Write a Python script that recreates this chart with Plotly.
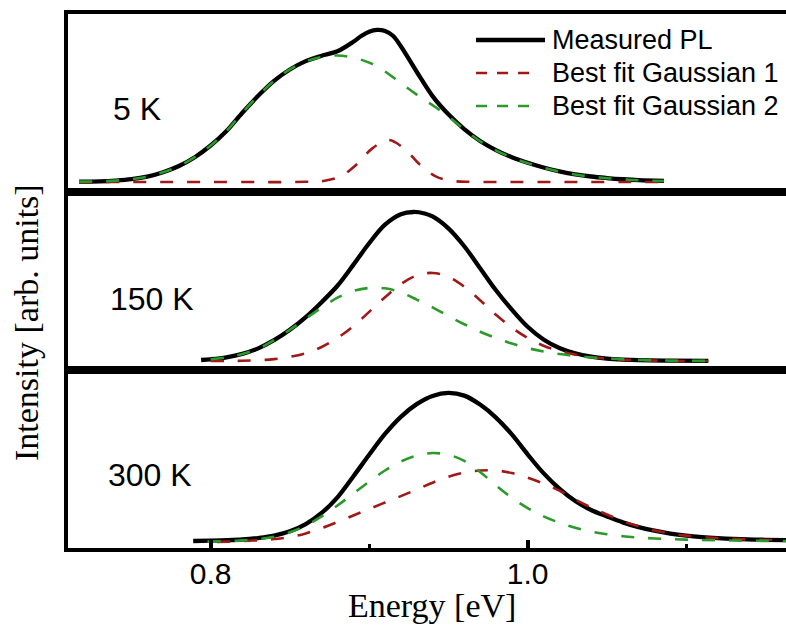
import plotly.graph_objects as go
from plotly.subplots import make_subplots

# ---------------- data (normalised intensity) ----------------
# 5 K panel
E_5K_meas = [0.717, 0.73, 0.74, 0.75, 0.76, 0.77, 0.78, 0.79, 0.80, 0.81, 0.82, 0.83, 0.84, 0.85, 0.86, 0.87,
             0.88, 0.89, 0.895, 0.90, 0.905, 0.91, 0.915, 0.92, 0.93, 0.94, 0.95, 0.96, 0.97, 0.98, 0.99, 1.00,
             1.01, 1.02, 1.03, 1.04, 1.05, 1.06, 1.07, 1.086]
I_5K_meas = [0.002, 0.004, 0.009, 0.018, 0.035, 0.064, 0.105, 0.163, 0.240, 0.335, 0.455, 0.567, 0.665, 0.740,
             0.795, 0.830, 0.860, 0.922, 0.960, 0.988, 1.000, 0.993, 0.962, 0.893, 0.725, 0.565, 0.445, 0.348,
             0.270, 0.210, 0.163, 0.126, 0.095, 0.070, 0.050, 0.036, 0.026, 0.018, 0.012, 0.007]
E_5K_g1 = [0.717, 0.800, 0.860, 0.872, 0.882, 0.892, 0.902, 0.912, 0.922, 0.932, 0.942, 0.952, 0.965, 1.000, 1.086]
I_5K_g1 = [0.0, 0.0, 0.001, 0.008, 0.037, 0.114, 0.221, 0.276, 0.221, 0.114, 0.037, 0.008, 0.001, 0.0, 0.0]
E_5K_g2 = [0.717, 0.73, 0.74, 0.75, 0.76, 0.77, 0.78, 0.79, 0.80, 0.81, 0.82, 0.83, 0.84, 0.85, 0.86, 0.87,
           0.88, 0.89, 0.90, 0.91, 0.92, 0.93, 0.94, 0.95, 0.96, 0.97, 0.98, 0.99, 1.00, 1.01, 1.02, 1.03,
           1.04, 1.05, 1.06, 1.07, 1.086]
I_5K_g2 = [0.002, 0.004, 0.009, 0.018, 0.035, 0.064, 0.105, 0.163, 0.240, 0.335, 0.455, 0.567, 0.665, 0.740,
           0.793, 0.822, 0.832, 0.818, 0.785, 0.727, 0.650, 0.575, 0.505, 0.432, 0.345, 0.268, 0.208, 0.161,
           0.124, 0.093, 0.068, 0.049, 0.035, 0.025, 0.017, 0.011, 0.006]

# 150 K panel
E_150K_meas = [0.794, 0.80, 0.81, 0.82, 0.83, 0.84, 0.85, 0.86, 0.87, 0.88, 0.89, 0.90, 0.91, 0.92, 0.928,
               0.935, 0.94, 0.95, 0.96, 0.97, 0.98, 0.99, 1.00, 1.01, 1.02, 1.03, 1.04, 1.05, 1.06, 1.07,
               1.09, 1.114]
I_150K_meas = [0.007, 0.012, 0.025, 0.048, 0.085, 0.140, 0.210, 0.295, 0.395, 0.505, 0.645, 0.790, 0.915,
               0.985, 1.000, 0.990, 0.970, 0.890, 0.770, 0.623, 0.475, 0.345, 0.230, 0.145, 0.088, 0.052,
               0.030, 0.017, 0.010, 0.006, 0.003, 0.001]
E_150K_g1 = [0.80, 0.81, 0.82, 0.83, 0.84, 0.85, 0.86, 0.87, 0.88, 0.89, 0.90, 0.91, 0.92, 0.93, 0.94, 0.95,
             0.96, 0.97, 0.98, 0.99, 1.00, 1.01, 1.02, 1.03, 1.04, 1.05, 1.06, 1.08, 1.114]
I_150K_g1 = [0.0, 0.001, 0.002, 0.006, 0.013, 0.028, 0.053, 0.094, 0.155, 0.234, 0.330, 0.428, 0.516, 0.574,
             0.591, 0.565, 0.499, 0.408, 0.310, 0.225, 0.155, 0.103, 0.068, 0.043, 0.027, 0.016, 0.009,
             0.003, 0.0]
E_150K_g2 = [0.80, 0.81, 0.82, 0.83, 0.84, 0.85, 0.86, 0.87, 0.88, 0.89, 0.90, 0.91, 0.92, 0.93, 0.94, 0.95,
             0.96, 0.97, 0.98, 0.99, 1.00, 1.01, 1.02, 1.03, 1.04, 1.05, 1.06, 1.07, 1.09, 1.114]
I_150K_g2 = [0.012, 0.025, 0.048, 0.083, 0.140, 0.210, 0.285, 0.358, 0.425, 0.470, 0.490, 0.488, 0.460, 0.412,
             0.360, 0.302, 0.247, 0.197, 0.155, 0.117, 0.087, 0.064, 0.047, 0.035, 0.025, 0.018, 0.012,
             0.008, 0.003, 0.001]

# 300 K panel
E_300K_meas = [0.789, 0.80, 0.81, 0.82, 0.83, 0.84, 0.85, 0.86, 0.87, 0.88, 0.89, 0.90, 0.91, 0.92, 0.93,
               0.94, 0.95, 0.96, 0.97, 0.98, 0.99, 1.00, 1.01, 1.02, 1.03, 1.04, 1.05, 1.06, 1.07, 1.08,
               1.09, 1.10, 1.11, 1.12, 1.13, 1.15, 1.17]
I_300K_meas = [0.007, 0.009, 0.012, 0.017, 0.027, 0.043, 0.072, 0.120, 0.195, 0.300, 0.440, 0.585, 0.725,
               0.840, 0.925, 0.980, 1.000, 0.982, 0.922, 0.835, 0.722, 0.588, 0.462, 0.358, 0.275, 0.215,
               0.172, 0.132, 0.100, 0.076, 0.057, 0.043, 0.033, 0.026, 0.021, 0.015, 0.012]
E_300K_g1 = [0.804, 0.82, 0.83, 0.84, 0.85, 0.86, 0.87, 0.88, 0.89, 0.90, 0.91, 0.92, 0.93, 0.94, 0.95, 0.96,
             0.97, 0.98, 0.99, 1.00, 1.01, 1.02, 1.03, 1.04, 1.05, 1.06, 1.07, 1.08, 1.09, 1.10, 1.12, 1.14,
             1.17]
I_300K_g1 = [0.0, 0.006, 0.012, 0.020, 0.033, 0.058, 0.093, 0.135, 0.178, 0.222, 0.265, 0.308, 0.352, 0.398,
             0.438, 0.466, 0.480, 0.480, 0.463, 0.432, 0.392, 0.345, 0.285, 0.232, 0.185, 0.140, 0.105,
             0.078, 0.058, 0.043, 0.026, 0.017, 0.010]
E_300K_g2 = [0.798, 0.81, 0.82, 0.83, 0.84, 0.85, 0.86, 0.87, 0.88, 0.89, 0.90, 0.91, 0.92, 0.93, 0.94, 0.95,
             0.96, 0.97, 0.98, 0.99, 1.00, 1.01, 1.02, 1.03, 1.04, 1.05, 1.06, 1.07, 1.08, 1.10, 1.13, 1.17]
I_300K_g2 = [0.003, 0.006, 0.011, 0.019, 0.035, 0.065, 0.110, 0.172, 0.245, 0.325, 0.405, 0.480, 0.540,
             0.580, 0.597, 0.585, 0.545, 0.470, 0.380, 0.297, 0.228, 0.172, 0.130, 0.095, 0.070, 0.052,
             0.039, 0.030, 0.024, 0.016, 0.010, 0.006]

panel_labels = ["5 K", "150 K", "300 K"]
series_names = ["Measured PL", "Best fit Gaussian 1", "Best fit Gaussian 2"]
x_ticks = [0.8, 1.0]
x_tick_labels = ["0.8", "1.0"]
x_minor_ticks = [0.9, 1.1]
x_title = "Energy [eV]"
y_title = "Intensity [arb. units]"

panels = [
    (E_5K_meas, I_5K_meas, E_5K_g1, I_5K_g1, E_5K_g2, I_5K_g2),
    (E_150K_meas, I_150K_meas, E_150K_g1, I_150K_g1, E_150K_g2, I_150K_g2),
    (E_300K_meas, I_300K_meas, E_300K_g1, I_300K_g1, E_300K_g2, I_300K_g2),
]

# ---------------- styling ----------------
W, H = 786, 631
ML, MT, MB = 68, 14, 83
RED = "#a01818"
GREEN = "#2a9a2a"
SANS = "Liberation Sans, Arial, sans-serif"
SERIF = "Liberation Serif, Times New Roman, serif"
y_ranges = [[-0.066, 1.105], [-0.060, 1.134], [-0.040, 1.154]]
x_range = [0.710, 1.163]
DATA_DASH = "13px,14px"
SM = 1.0

fig = make_subplots(rows=3, cols=1, shared_xaxes=True, vertical_spacing=0)

for i, (em, im, e1, i1, e2, i2) in enumerate(panels):
    r = i + 1
    fig.add_trace(go.Scatter(x=em, y=im, mode="lines", name=series_names[0],
                             line=dict(color="black", width=4.3, shape="spline", smoothing=SM),
                             showlegend=False), row=r, col=1)
    fig.add_trace(go.Scatter(x=e1, y=i1, mode="lines", name=series_names[1],
                             line=dict(color=RED, width=2.6, dash=DATA_DASH, shape="spline", smoothing=SM),
                             showlegend=False), row=r, col=1)
    fig.add_trace(go.Scatter(x=e2, y=i2, mode="lines", name=series_names[2],
                             line=dict(color=GREEN, width=2.6, dash=DATA_DASH, shape="spline", smoothing=SM),
                             showlegend=False), row=r, col=1)
    fig.update_yaxes(range=y_ranges[i], showline=True, linecolor="black", linewidth=4, mirror=False,
                     showticklabels=False, ticks="", showgrid=False, zeroline=False, row=r, col=1)
    fig.update_xaxes(range=x_range, showline=True, linecolor="black", linewidth=4, mirror=True,
                     showgrid=False, zeroline=False, row=r, col=1)

fig.update_xaxes(ticks="", showticklabels=False, row=1, col=1)
fig.update_xaxes(ticks="", showticklabels=False, row=2, col=1)
fig.update_xaxes(ticks="inside", ticklen=8, tickwidth=3.5, tickcolor="black",
                 tickvals=x_ticks, ticktext=x_tick_labels, showticklabels=True, ticklabelstandoff=-4,
                 tickfont=dict(family=SANS, size=30, color="black"),
                 minor=dict(tickvals=x_minor_ticks, ticks="inside", ticklen=4, tickwidth=3, tickcolor="black"),
                 row=3, col=1)

plot_w = W - ML
plot_h = H - MT - MB


def px(xp):
    return (xp - ML) / plot_w


def py(yp):
    return (H - MB - yp) / plot_h


annotations = []
label_pos = [(111, 109), (108, 299), (106, 475)]
for lab, (lx, ly) in zip(panel_labels, label_pos):
    annotations.append(dict(text=lab, x=px(lx), y=py(ly), xref="paper", yref="paper",
                            xanchor="left", yanchor="middle", showarrow=False,
                            font=dict(family=SANS, size=32, color="black")))

annotations.append(dict(text=x_title, x=px(432), y=py(605), xref="paper", yref="paper",
                        xanchor="center", yanchor="middle", showarrow=False,
                        font=dict(family=SERIF, size=34, color="black")))
annotations.append(dict(text=y_title, x=px(26), y=py(323), xref="paper", yref="paper",
                        xanchor="center", yanchor="middle", showarrow=False, textangle=-90,
                        font=dict(family=SERIF, size=34, color="black")))

# legend drawn in the top-right of the first panel
leg_rows = [40, 73, 106]
leg_colors = ["black", RED, GREEN]
leg_widths = [4.5, 2.6, 2.6]
leg_dash = ["solid", "11px,10px", "11px,10px"]
leg_x0 = 476
leg_x1 = [545, 532, 532]
shapes = []
for name, yy, c, w, d, x1 in zip(series_names, leg_rows, leg_colors, leg_widths, leg_dash, leg_x1):
    shapes.append(dict(type="line", xref="paper", yref="paper", x0=px(leg_x0), x1=px(x1), y0=py(yy), y1=py(yy),
                       line=dict(color=c, width=w, dash=d)))
    annotations.append(dict(text=name, x=px(550), y=py(yy), xref="paper", yref="paper",
                            xanchor="left", yanchor="middle", showarrow=False,
                            font=dict(family=SANS, size=27, color="black")))

fig.update_layout(width=W, height=H, margin=dict(l=ML, r=0, t=MT, b=MB, pad=0),
                  paper_bgcolor="white", plot_bgcolor="white", showlegend=False,
                  annotations=annotations, shapes=shapes)

fig.write_html("out.html")
